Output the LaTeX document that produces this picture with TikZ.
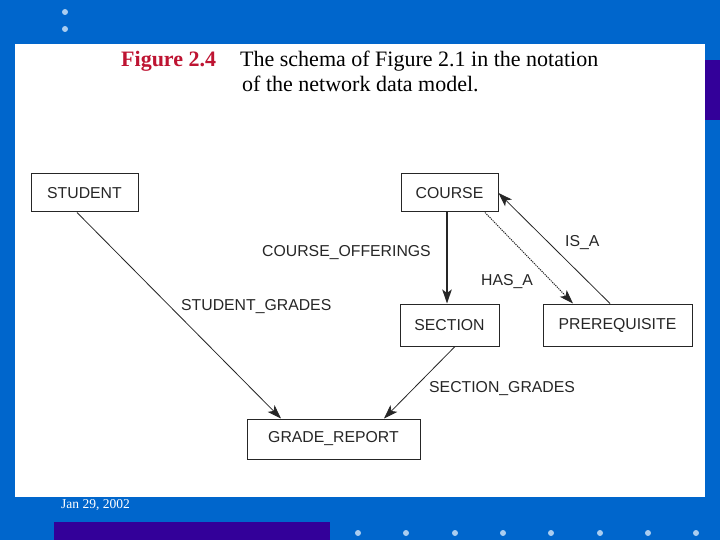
\documentclass[tikz,border=0pt]{standalone}
\usepackage{fontspec}
\setmainfont{Liberation Serif}
\setsansfont{Liberation Sans}
\usepackage{xcolor}
\usepackage{tikz}
\usetikzlibrary{arrows.meta, positioning, calc}

\definecolor{slideblue}{RGB}{0,102,204}
\definecolor{slidepurple}{RGB}{51,0,153}
\definecolor{slidedot}{RGB}{170,205,240}
\definecolor{figred}{RGB}{190,20,50}

\begin{document}
\begin{tikzpicture}[
    x=1pt, y=-1pt,
    every node/.style={font=\sffamily\fontsize{15.8}{18}\selectfont, text=black!85},
    entity/.style={draw=black!85, line width=1pt, inner sep=0pt, minimum height=38pt},
    setlabel/.style={anchor=base west, inner sep=0pt},
    link/.style={draw=black!85, line width=0.8pt, -{Stealth[length=14pt, width=9.5pt, inset=3.5pt]}},
    titletext/.style={font=\rmfamily\fontsize{22}{26}\selectfont, text=black, anchor=base west, inner sep=0pt}
]

% slide background
\fill[slideblue] (0,0) rectangle (720,540);
\fill[white] (15,44) rectangle (705,497);
\fill[slidepurple] (705,60) rectangle (720,120);
\fill[slidepurple] (54,522) rectangle (330,540);

% bullets
\foreach \y in {12,29} {
    \fill[slidedot] (65,\y) circle (3);
}
\foreach \x in {358,406,455,503,551,600,648,696} {
    \fill[slidedot] (\x,533) circle (3);
}

% caption
\node[titletext, text=figred, font=\rmfamily\bfseries\fontsize{22}{26}\selectfont] (fignum) at (121,67) {Figure 2.4};
\node[titletext] (caption1) at (240,67) {The schema of Figure 2.1 in the notation};
\node[titletext] (caption2) at (242,92) {of the network data model.};

% date
\node[anchor=base west, inner sep=0pt, text=white, font=\rmfamily\fontsize{13.5}{16}\selectfont] (date) at (61,508) {Jan 29, 2002};

% record types
\node[entity, minimum width=107pt] (student) at (84.5,193) {STUDENT};
\node[entity, minimum width=97pt]  (course)  at (449.5,193) {COURSE};
\node[entity, minimum width=99pt, minimum height=42pt]  (section) at (449.5,325) {SECTION};
\node[entity, minimum width=149pt, minimum height=42pt] (prereq)  at (617.5,325) {PREREQUISITE};
\node[entity, minimum width=173pt, minimum height=40pt] (grade)   at (333.5,439) {GRADE\_REPORT};

% set types
\draw[link] ([xshift=-7.5pt]student.south) -- ([xshift=-52.5pt]grade.north);
\draw[link, line width=1.6pt] ([xshift=-2.5pt]course.south) -- ([xshift=-2.5pt]section.north);
\draw[link, line width=1pt, dash pattern=on 1.2pt off 1pt] ([xshift=35.5pt]course.south) -- ([xshift=-44.5pt]prereq.north);
\draw[link] ([xshift=-7.5pt]prereq.north) -- (course.east);
\draw[link] ([xshift=5.5pt]section.south) -- ([xshift=50.5pt]grade.north);

% set names
\node[setlabel] (offerings) at (262,256) {COURSE\_OFFERINGS};
\node[setlabel] (stgrades)  at (181,310) {STUDENT\_GRADES};
\node[setlabel] (hasa)      at (481,285) {HAS\_A};
\node[setlabel] (isa)       at (565,247) {IS\_A};
\node[setlabel] (secgrades) at (429,392) {SECTION\_GRADES};

\end{tikzpicture}
\end{document}
